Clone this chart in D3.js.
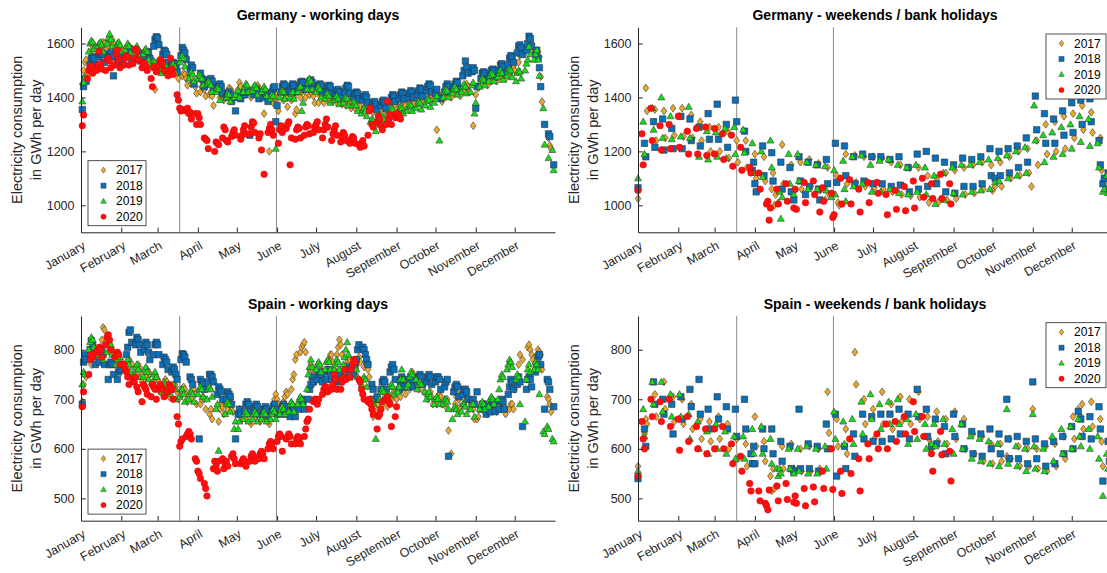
<!DOCTYPE html>
<html><head><meta charset="utf-8">
<script src="https://cdn.jsdelivr.net/npm/d3@7"></script>
<style>
html,body{margin:0;padding:0;background:#fff;overflow:hidden}
svg{display:block;font-family:"Liberation Sans",Arial,Helvetica,sans-serif}
</style></head><body>
<svg id="chart" width="1107" height="573"></svg>
<script>
// ---------------- DATA ----------------
const years = ["2017", "2018", "2019", "2020"];
const monthNames = ["January","February","March","April","May","June","July","August","September","October","November","December"];
const deTicks = [1000, 1200, 1400, 1600];
const esTicks = [500, 600, 700, 800];
const markerDates = [[2, 18, 0], [4, 31, 12]]; // [month index, day, hour] of the two vertical lines

// bank holidays (moved to the weekend panels)
const deHol2017 = ["01-01","04-14","04-17","05-01","05-25","06-05","10-03","10-31","12-25","12-26"];
const deHol2018 = ["01-01","03-30","04-02","05-01","05-10","05-21","10-03","12-25","12-26"];
const deHol2019 = ["01-01","04-19","04-22","05-01","05-30","06-10","10-03","12-25","12-26"];
const deHol2020 = ["01-01","04-10","04-13","05-01","05-21","06-01"];
const esHol2017 = ["01-06","04-13","04-14","05-01","08-15","10-12","11-01","12-06","12-08","12-25"];
const esHol2018 = ["01-01","03-29","03-30","05-01","08-15","10-12","11-01","12-06","12-08","12-25"];
const esHol2019 = ["01-01","04-18","04-19","05-01","08-15","10-12","11-01","12-06","12-25"];
const esHol2020 = ["01-01","01-06","04-09","04-10","05-01","08-15"];

// Germany, working days (GWh/day), one list per month, in date order
const deWork2017 = [
[1450,1500,1530,1540,1490,1570,1590,1595,1585,1560,1585,1600,1605,1600,1575,1590,1610,1615,1600,1580,1570,1585],
[1580,1575,1555,1565,1580,1585,1580,1560,1560,1575,1570,1565,1540,1545,1565,1555,1550,1525,1430,1520],
[1530,1525,1500,1520,1530,1525,1515,1495,1500,1510,1505,1495,1470,1480,1490,1485,1470,1445,1450,1460,1455,1440,1415],
[1420,1440,1435,1430,1405,1410,1420,1405,1370,1400,1415,1410,1390,1420,1435,1430,1425,1395],
[1430,1455,1440,1400,1410,1425,1430,1425,1400,1420,1440,1445,1435,1410,1340,1415,1405,1200,1380,1400,1410],
[1395,1350,1390,1410,1400,1365,1390,1405,1400,1340,1355,1400,1420,1430,1425,1400,1410,1420,1415,1405,1380],
[1380,1405,1410,1400,1380,1390,1410,1415,1405,1385,1380,1400,1410,1400,1375,1370,1390,1395,1385,1360,1360],
[1385,1395,1390,1365,1365,1380,1385,1375,1355,1345,1360,1350,1340,1320,1340,1360,1365,1355,1335,1355,1375,1380,1370],
[1355,1375,1390,1395,1390,1370,1380,1395,1400,1395,1375,1385,1400,1410,1400,1380,1395,1410,1420,1410,1390],
[1280,1400,1405,1385,1410,1425,1430,1420,1400,1415,1430,1440,1430,1405,1425,1440,1450,1440,1420,1295],
[1410,1440,1435,1450,1470,1475,1465,1445,1460,1480,1490,1480,1460,1480,1500,1505,1495,1470,1490,1510,1520,1515],
[1500,1530,1555,1570,1575,1560,1580,1605,1612,1600,1580,1560,1570,1550,1477,1384,1250,1222,1210]];
const deWork2018 = [
[1355,1440,1470,1460,1520,1545,1550,1545,1520,1550,1560,1565,1560,1530,1545,1560,1565,1550,1480,1530,1550,1555],
[1550,1530,1560,1575,1580,1575,1545,1540,1555,1565,1560,1535,1550,1565,1570,1565,1545,1590,1615,1625],
[1620,1595,1560,1575,1570,1560,1530,1520,1530,1525,1515,1495,1555,1585,1575,1565,1540,1505,1520,1510,1450],
[1490,1470,1465,1440,1450,1465,1470,1460,1435,1430,1445,1450,1440,1415,1400,1415,1420,1410,1385,1350],
[1400,1415,1395,1410,1420,1425,1260,1410,1425,1430,1420,1395,1400,1415,1410,1385,1420,1435,1440,1310],
[1370,1420,1440,1450,1445,1420,1425,1440,1450,1445,1420,1440,1455,1460,1455,1430,1445,1460,1465,1455,1430],
[1430,1445,1450,1445,1420,1420,1440,1445,1440,1415,1410,1425,1430,1420,1400,1420,1435,1445,1440,1415,1400,1415],
[1420,1415,1395,1390,1405,1410,1400,1380,1365,1380,1385,1375,1355,1370,1385,1390,1380,1360,1385,1400,1410,1405,1385],
[1395,1410,1420,1415,1395,1400,1415,1425,1420,1400,1410,1425,1435,1430,1405,1425,1440,1450,1445,1420],
[1415,1430,1400,1395,1420,1440,1450,1440,1420,1435,1450,1460,1455,1430,1480,1500,1535,1510,1490,1495,1510,1500],
[1360,1440,1470,1490,1495,1490,1465,1480,1500,1505,1500,1475,1500,1520,1525,1515,1490,1520,1545,1555,1550,1530],
[1565,1590,1595,1585,1560,1575,1600,1627,1618,1590,1560,1575,1545,1510,1440,1300,1265,1255,1150]];
const deWork2019 = [
[1385,1455,1475,1570,1600,1610,1605,1580,1590,1600,1605,1595,1570,1600,1620,1635,1615,1590,1585,1600,1605,1595],
[1570,1575,1590,1600,1590,1565,1560,1580,1590,1580,1550,1560,1575,1580,1570,1540,1520,1535,1530,1510],
[1500,1490,1515,1525,1520,1495,1505,1520,1525,1515,1490,1530,1545,1555,1545,1515,1470,1490,1495,1485,1460],
[1470,1485,1480,1470,1445,1450,1460,1455,1445,1420,1420,1435,1430,1390,1400,1415,1410,1385,1400,1410],
[1425,1400,1420,1440,1450,1445,1420,1425,1440,1445,1435,1410,1420,1430,1440,1430,1405,1395,1410,1405,1210],
[1400,1420,1425,1420,1395,1400,1415,1420,1395,1420,1435,1440,1350,1380,1430,1455,1470,1460,1430],
[1420,1435,1440,1430,1400,1395,1410,1415,1405,1380,1390,1400,1405,1395,1375,1380,1395,1400,1395,1370,1370,1385,1380],
[1370,1350,1340,1355,1360,1350,1330,1310,1320,1315,1300,1275,1310,1325,1330,1320,1300,1335,1350,1360,1355,1335],
[1340,1355,1365,1360,1340,1350,1365,1375,1370,1350,1360,1375,1385,1380,1355,1370,1385,1395,1390,1365,1380],
[1395,1405,1240,1400,1420,1430,1425,1400,1415,1430,1440,1430,1410,1420,1440,1450,1440,1415,1420,1445,1455,1340],
[1380,1440,1460,1470,1465,1445,1460,1480,1490,1485,1460,1475,1490,1500,1490,1465,1480,1495,1505,1500,1475],
[1460,1490,1500,1495,1470,1500,1525,1540,1588,1560,1540,1560,1575,1540,1480,1360,1225,1175,1205,1130]];
const deWork2020 = [
[1295,1335,1470,1500,1510,1515,1490,1500,1520,1570,1525,1505,1500,1540,1545,1535,1510,1520,1560,1575,1540,1510],
[1520,1545,1555,1550,1520,1525,1545,1580,1570,1540,1510,1530,1525,1515,1500,1470,1440,1510,1515,1495],
[1520,1540,1535,1525,1500,1480,1500,1545,1505,1485,1410,1390,1360,1350,1355,1350,1360,1340,1345,1320,1340,1300],
[1340,1325,1300,1250,1245,1240,1210,1200,1235,1230,1225,1250,1290,1280,1240,1235,1255,1270,1280,1260],
[1245,1260,1280,1295,1265,1265,1290,1310,1305,1270,1250,1265,1205,1115,1270,1285,1300,1280,1260],
[1230,1280,1295,1270,1285,1300,1310,1150,1250,1245,1280,1290,1285,1250,1260,1290,1300,1295,1265,1270,1290],
[1300,1310,1280,1250,1280,1300,1320,1290,1240,1265,1280,1295,1260,1235,1255,1270,1260,1240,1230,1245,1255,1250,1230],
[1225,1215,1230,1240,1220,1260,1350,1360,1300,1290,1310,1330,1320,1295,1280,1300,1385,1320,1335,1300,1325],
[1340,1330,1335,1320]];

// Germany, weekends / bank holidays
const deOff2017 = [
[1025,1435,1350,1355,1240,1350,1250,1360,1260],
[1360,1255,1335,1250,1310,1240,1290,1200],
[1290,1200,1275,1175,1240,1160,1240,1140],
[1190,1100,1180,1090,1060,1120,1000,1040,1225,1080,1150,1050],
[1050,1160,1060,1170,1070,1155,1055,1020,1140,1040],
[1110,1010,1000,1190,1080,1185,1085,1180,1070],
[1180,1065,1175,1060,1160,1050,1150,1040,1140,1035],
[1140,1030,1110,1010,1100,1010,1120,1020],
[1130,1025,1140,1040,1150,1045,1160,1060,1150],
[1055,1070,1160,1070,1180,1100,1200,1110,1210,1120,1070],
[1240,1150,1300,1190,1310,1200,1330,1210],
[1340,1250,1370,1280,1345,1270,1250,1130,1080,1100,1060,1050]];
const deOff2018 = [
[1065,1230,1180,1310,1215,1320,1205,1285,1210],
[1330,1210,1320,1240,1290,1220,1340,1245],
[1375,1245,1300,1215,1390,1310,1275,1200,1130,1160],
[1080,1050,1220,1110,1195,1090,1160,1060,1140,1050],
[1020,1180,1090,1040,1160,1070,1150,1060,1020,1170,1080],
[1230,1085,1220,1110,1180,1080,1190,1090,1180],
[1080,1180,1080,1170,1070,1180,1075,1140,1050],
[1190,1060,1200,1070,1175,1080,1160,1050],
[1150,1045,1175,1070,1170,1070,1180,1080,1210,1110],
[1100,1200,1110,1210,1120,1220,1140,1250,1160],
[1405,1280,1340,1230,1320,1230,1350,1260],
[1380,1270,1390,1300,1395,1310,1240,1150,1080,1100,1120,1060]];
const deOff2019 = [
[1100,1310,1190,1360,1280,1400,1250,1330,1245],
[1330,1255,1365,1250,1290,1180,1275,1170],
[1270,1180,1285,1175,1290,1190,1280,1195,1230,1120],
[1200,1105,1240,1140,1010,1050,950,1030,1190,1080],
[1040,1190,1090,1160,1060,1150,1060,1145,1055,1030],
[1130,1040,1165,1060,1015,1180,1070,1185,1080,1150,1050],
[1165,1050,1170,1060,1150,1045,1140,1040],
[1150,1050,1140,1040,1110,1005,1120,1020,1140],
[1045,1150,1040,1150,1050,1160,1055,1170,1060],
[1085,1175,1090,1185,1100,1200,1110,1215,1120],
[1370,1240,1260,1160,1270,1180,1290,1190,1300],
[1210,1330,1235,1320,1220,1230,1140,1050,1060,1110,1045]];
const deOff2020 = [
[1055,1265,1150,1360,1240,1295,1205,1300,1210],
[1330,1215,1275,1190,1285,1190,1290,1185,1285],
[1190,1265,1170,1260,1145,1215,1130,1140,1120],
[1120,1060,1005,1015,945,990,1060,1005,1080,1015],
[990,1060,985,1085,1010,1090,1040,975,1065,1015,1045,955],
[965,1100,1005,1095,1005,1060,975,1085,1010],
[1085,1045,1040,965,1055,985,1070,980],
[1090,990,1100,1030,1080,1025,1115,1025,1080,1005]];

// Spain, working days
const esWork2017 = [
[695,730,750,745,770,785,795,790,775,800,820,845,840,815,810,805,800,790,770,780,775],
[775,770,760,765,780,775,770,750,760,770,765,755,735,745,760,755,750,730,740,745],
[740,735,715,730,740,735,725,705,720,730,725,715,700,710,725,720,710,695,700,715,720,710,690],
[690,700,705,700,680,670,680,660,655,680,690,685,670,680,695,700,690,675],
[670,680,675,660,660,670,675,670,650,665,675,680,675,655,665,675,680,670,650,690,700,710],
[700,690,680,695,705,715,710,720,740,750,780,790,795,805,810,815,795,760,770,760,750,735],
[740,755,760,755,740,760,780,790,790,775,790,805,820,810,790,770,780,785,780,765,750],
[770,780,785,775,765,775,770,760,745,665,675,690,690,690,700,705,700,685,700,710,715,705],
[700,705,720,730,725,710,720,740,755,750,730,720,735,740,735,715,700,710,715,705,690],
[690,705,710,705,690,685,700,637,590,690,705,710,700,685,690,700,705,700,680,680,660],
[660,665,680,690,690,685,670,675,690,695,690,675,680,690,690,685,670,680,690,690,680],
[720,770,790,780,805,810,800,790,780,790,800,795,790,760,705,700,690,675]];
const esWork2018 = [
[690,775,790,780,800,818,810,790,770,775,790,800,790,770,740,770,775,770,750,740,755,760],
[760,770,790,805,835,840,815,810,825,820,810,795,800,815,810,795,780,790,810,815],
[810,790,770,785,780,775,760,755,765,760,750,740,780,792,790,785,775,745,740,730],
[620,740,735,730,720,735,750,750,745,735,710,725,720,715,700,700,715,710,705,690,620],
[670,680,670,675,690,695,690,675,680,685,690,685,670,670,680,685,680,665,675,685,690,680],
[670,670,685,690,685,670,665,680,685,680,665,680,695,700,695,680,700,720,730,745,735],
[740,750,755,750,735,740,755,760,755,740,735,750,755,750,735,745,760,765,760,745,750,765],
[780,800,810,805,800,790,780,770,730,720,700,705,720,735,740,735,720,755,765,770,760,740],
[720,735,745,740,725,725,740,745,740,725,730,745,750,745,730,735,745,750,745,730],
[735,745,745,740,720,725,735,740,585,715,725,730,725,705,710,720,720,715,700,695,700,690],
[715,680,690,690,685,670,675,690,695,690,675,680,695,700,695,680,710,725,740,735,720],
[730,745,735,645,720,740,745,740,725,755,770,785,790,770,680,740,735,720,685]];
const esWork2019 = [
[730,755,750,800,815,825,820,805,790,800,805,800,780,795,810,815,810,790,770,780,790,785],
[770,760,775,780,770,755,750,765,770,760,745,745,760,765,755,740,735,750,755,745],
[720,715,730,735,730,715,710,725,730,720,700,705,720,720,710,695,700,715,715,710,695],
[710,720,725,720,705,700,720,725,720,705,680,690,596,670,690,695,690,675,640,655],
[640,655,660,670,675,670,655,660,670,675,670,655,660,670,675,670,655,660,670,680,675,660],
[670,680,685,680,670,675,690,695,690,675,690,700,705,700,690,720,750,765,780,765],
[760,770,775,770,755,760,775,780,775,760,760,770,780,775,760,770,785,800,815,790,760,775,780],
[760,745,730,740,745,740,725,700,700,690,620,700,715,720,715,700,710,725,730,725,710],
[715,725,740,760,740,725,730,745,755,750,740,720,730,735,730,715,700,710,715,705,690],
[700,705,700,690,690,700,700,695,680,660,680,685,680,670,675,690,690,685,670,680,690,690,665],
[680,690,695,690,680,685,700,705,700,690,700,720,740,750,745,760,770,780,775,765],
[740,750,745,690,655,740,760,770,755,760,775,770,760,710,635,630,645,640,620,615]];
const esWork2020 = [
[685,715,750,780,790,785,795,800,805,800,785,810,825,830,820,800,785,790,795,790,770],
[770,760,755,745,730,740,735,745,725,715,695,730,725,720,710,705,730,725,720,700],
[720,730,725,720,705,715,730,725,720,700,665,650,605,615,620,625,630,635,630,620,580,575],
[555,550,540,530,520,505,560,575,565,555,575,580,560,570,575,565,585,590,580,570],
[570,575,580,575,565,575,585,590,585,575,580,590,595,590,580,600,610,615,610,600],
[615,625,630,625,595,620,625,630,625,610,610,620,625,620,610,625,640,655,660,680,695,700],
[700,690,700,710,720,725,725,715,720,730,750,740,720,720,735,745,760,740,745,760,770,780,775],
[740,735,720,710,700,695,700,690,680,670,640,665,670,680,695,700,705,695,690,645,665],
[685]];

// Spain, weekends / bank holidays
const esOff2017 = [
[565,630,660,650,710,665,735,680,705,655],
[700,650,690,640,660,620,655,615],
[665,620,650,600,620,580,610,565],
[665,605,615,575,545,515,560,520,605,560,610,555],
[560,600,555,605,555,600,560,715,632],
[660,605,640,590,795,730,700,650],
[680,620,715,650,690,640,705,655,700,650],
[715,660,665,620,600,675,615,660,610],
[675,620,660,600,630,590,625,575,610],
[570,610,575,585,620,580,605,565,600,565],
[680,600,560,605,555,610,565,625,580],
[665,620,680,665,690,640,695,645,660,615,565,615,580]];
const esOff2018 = [
[540,640,605,735,690,700,670,690,630],
[705,660,720,685,740,670,680,640],
[705,660,685,640,680,625,700,640,590,570,605],
[570,640,600,640,590,615,575,605,560],
[555,680,560,610,560,605,555,650,600],
[670,545,605,560,630,585,670,620,665],
[615,670,615,670,620,680,630,670,620],
[720,665,680,625,605,660,610,645,590],
[670,625,650,600,635,590,630,585,640,600],
[630,590,700,620,580,625,580,615,570],
[735,620,580,610,565,615,570,625,590],
[645,600,675,660,625,665,620,685,640,535,615,575]];
const esOff2019 = [
[555,680,625,735,690,735,675,710,665],
[710,665,670,620,655,600,635,590],
[650,600,635,590,625,580,625,580,640,590],
[645,590,620,570,560,545,560,550,600,560],
[550,600,555,605,550,600,550,605,560],
[675,620,655,610,660,610,695,630,710,660],
[690,640,695,650,700,650,660,610],
[670,620,650,600,610,650,605,660,610,640],
[590,650,600,625,580,620,575,615,570],
[610,565,680,570,605,565,600,555],
[670,605,560,600,555,625,575,640,590,645],
[600,660,625,605,640,600,625,580,505,590,560]];
const esOff2020 = [
[545,655,620,600,700,665,695,655,700,645],
[660,597,665,615,645,600,640,590,640],
[600,645,600,610,570,585,555,530,515],
[515,495,490,485,477,517,525,495,530,498],
[492,505,490,520,485,523,493,555,520,600,518],
[555,510,620,550,580,515,610,580],
[630,600,650,600,655,615,665,630],
[695,635,665,625,590,555,635,588,595,535]];

// ---------------- HELPERS ----------------
function placeOnCalendar(year, holidays, months, kind) {
  const pts = [];
  months.forEach((vals, m) => {
    const n = new Date(year, m + 1, 0).getDate();
    const days = [];
    for (let d = 1; d <= n; d++) {
      const dt = new Date(year, m, d);
      const key = String(m + 1).padStart(2, "0") + "-" + String(d).padStart(2, "0");
      const off = dt.getDay() === 0 || dt.getDay() === 6 || holidays.includes(key);
      if ((kind === "work") !== off) days.push(d);
    }
    vals.forEach((v, j) => {
      if (j < days.length) pts.push({ date: new Date(2019, m, days[j]), value: v });
    });
  });
  return pts;
}

const svg = d3.select("#chart");
const AX = "#262626";
const FONT = '"Liberation Sans", Arial, Helvetica, sans-serif';

const shapes = [
  "M0,-3.9L2.9,0L0,3.9L-2.9,0Z",
  "M-3.2,-3.2H3.2V3.2H-3.2Z",
  "M0,-3.7L3.5,2.5H-3.5Z",
  d3.symbol(d3.symbolCircle, 33)()
];
const fills = ["#EAA82C", "#0A70B8", "#12E012", "#FF1010"];
const strokes = ["#3a3a3a", "#2a3440", "#3a3a3a", "#e00000"];

const panels = [
  { title: "Germany - working days", kind: "work", x0: 81, yTop: 27.3, yBot: 232.3, yDom: [900, 1660], ticks: deTicks,
    series: [[2017, deHol2017, deWork2017], [2018, deHol2018, deWork2018], [2019, deHol2019, deWork2019], [2020, deHol2020, deWork2020]], legend: "sw" },
  { title: "Germany - weekends / bank holidays", kind: "off", x0: 638, yTop: 27.3, yBot: 232.3, yDom: [900, 1660], ticks: deTicks,
    series: [[2017, deHol2017, deOff2017], [2018, deHol2018, deOff2018], [2019, deHol2019, deOff2019], [2020, deHol2020, deOff2020]], legend: "ne" },
  { title: "Spain - working days", kind: "work", x0: 81, yTop: 316, yBot: 520.7, yDom: [455, 868], ticks: esTicks,
    series: [[2017, esHol2017, esWork2017], [2018, esHol2018, esWork2018], [2019, esHol2019, esWork2019], [2020, esHol2020, esWork2020]], legend: "sw" },
  { title: "Spain - weekends / bank holidays", kind: "off", x0: 638, yTop: 316, yBot: 520.7, yDom: [455, 868], ticks: esTicks,
    series: [[2017, esHol2017, esOff2017], [2018, esHol2018, esOff2018], [2019, esHol2019, esOff2019], [2020, esHol2020, esOff2020]], legend: "ne" }
];

const monthTicks = monthNames.map((_, i) => new Date(2019, i, 1));

panels.forEach(p => {
  const x = d3.scaleTime().domain([new Date(2019, 0, 1), new Date(2020, 0, 1)]).range([p.x0, p.x0 + 474]);
  const y = d3.scaleLinear().domain(p.yDom).range([p.yBot, p.yTop]);
  const g = svg.append("g");

  // vertical reference lines
  markerDates.forEach(md => {
    const xv = x(new Date(2019, md[0], md[1], md[2]));
    g.append("line").attr("x1", xv).attr("x2", xv).attr("y1", p.yTop).attr("y2", p.yBot)
      .attr("stroke", "#8a8a8a").attr("stroke-width", 1);
  });

  // points
  p.series.forEach((s, i) => {
    const pts = placeOnCalendar(s[0], s[1], s[2], p.kind);
    g.append("g").selectAll("path").data(pts).join("path")
      .attr("d", shapes[i])
      .attr("transform", d => `translate(${x(d.date).toFixed(2)},${y(d.value).toFixed(2)})`)
      .attr("fill", fills[i]).attr("stroke", strokes[i]).attr("stroke-width", 0.6);
  });

  // x axis
  const xa = g.append("g").attr("transform", `translate(0,${p.yBot})`)
    .call(d3.axisBottom(x).tickValues(monthTicks).tickFormat(d3.timeFormat("%B")).tickSize(-4.7).tickSizeOuter(0));
  xa.select(".domain").attr("stroke", AX);
  xa.selectAll(".tick line").attr("stroke", AX);
  xa.selectAll(".tick text").attr("y", 0).attr("dy", "0.71em").attr("text-anchor", "end")
    .attr("transform", "translate(0.5,8) rotate(-30)")
    .attr("fill", AX).attr("font-size", 12.5).attr("font-family", FONT);

  // y axis
  const ya = g.append("g").attr("transform", `translate(${p.x0},0)`)
    .call(d3.axisLeft(y).tickValues(p.ticks).tickFormat(d3.format("d")).tickSize(-4.7).tickSizeOuter(0).tickPadding(6.5));
  ya.select(".domain").attr("stroke", AX);
  ya.selectAll(".tick line").attr("stroke", AX);
  ya.selectAll(".tick text").attr("fill", AX).attr("font-size", 12.5).attr("font-family", FONT);

  // title
  g.append("text").attr("x", p.x0 + 237).attr("y", p.yTop - 7).attr("text-anchor", "middle")
    .attr("font-weight", "bold").attr("font-size", 14).attr("fill", "#000").attr("font-family", FONT)
    .text(p.title);

  // y label
  const ym = (p.yTop + p.yBot) / 2;
  [["Electricity consumption", -59], ["in GWh per day", -40.5]].forEach(l => {
    g.append("text").attr("transform", `translate(${p.x0 + l[1]},${ym}) rotate(-90)`)
      .attr("text-anchor", "middle").attr("font-size", 14.5).attr("fill", AX).attr("font-family", FONT)
      .text(l[0]);
  });

  // legend
  const bx = p.legend === "sw" ? p.x0 + 7 : p.x0 + 408;
  const by = p.legend === "sw" ? p.yBot - 71.6 : p.yTop + 6.7;
  const lg = g.append("g").attr("transform", `translate(${bx},${by})`);
  lg.append("rect").attr("x", 0).attr("y", 0).attr("width", p.legend === "sw" ? 58 : 60).attr("height", 65)
    .attr("fill", "#fff").attr("stroke", AX).attr("stroke-width", 0.8);
  years.forEach((yr, i) => {
    const cy = 9.5 + i * 15.5;
    lg.append("path").attr("d", shapes[i]).attr("transform", `translate(15.5,${cy}) scale(0.8)`)
      .attr("fill", fills[i]).attr("stroke", strokes[i]).attr("stroke-width", 0.6);
    lg.append("text").attr("x", 28).attr("y", cy).attr("dy", "0.35em").attr("font-size", 12)
      .attr("fill", "#000").attr("font-family", FONT).text(yr);
  });
});
</script></body></html>
